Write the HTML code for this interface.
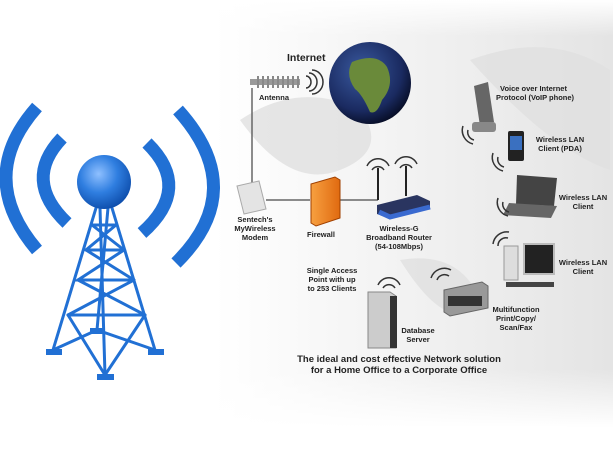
<!DOCTYPE html>
<html><head><style>
body{margin:0;width:613px;height:450px;overflow:hidden;background:#fff;font-family:"Liberation Sans",sans-serif}
svg{display:block}
text{font-family:"Liberation Sans",sans-serif;font-weight:bold;fill:#222}
</style></head><body>
<svg width="613" height="450" viewBox="0 0 613 450">
<defs>
<linearGradient id="bg" x1="0" x2="1"><stop offset="0" stop-color="#fff"/><stop offset="0.35" stop-color="#fff"/><stop offset="1" stop-color="#e4e4e4"/></linearGradient>
<linearGradient id="vf" x1="0" y1="0" x2="0" y2="1"><stop offset="0" stop-color="#fff" stop-opacity="1"/><stop offset="0.08" stop-color="#fff" stop-opacity="0"/><stop offset="0.82" stop-color="#fff" stop-opacity="0"/><stop offset="0.95" stop-color="#fff" stop-opacity="1"/></linearGradient>
<radialGradient id="globe" cx="0.4" cy="0.35" r="0.7"><stop offset="0" stop-color="#3a5aa0"/><stop offset="0.7" stop-color="#1a2a60"/><stop offset="1" stop-color="#050a20"/></radialGradient>
<radialGradient id="ball" cx="0.4" cy="0.35" r="0.7"><stop offset="0" stop-color="#8fc0ff"/><stop offset="0.5" stop-color="#2f7ee0"/><stop offset="1" stop-color="#0b4aa8"/></radialGradient>
<linearGradient id="fw" x1="0" x2="1"><stop offset="0" stop-color="#f7a040"/><stop offset="1" stop-color="#e06a10"/></linearGradient>
</defs>
<rect width="613" height="450" fill="url(#bg)"/>
<g fill="#e0e0e0" opacity="0.8">
<path d="M240 120 q60 -40 120 -10 q30 40 -20 60 q-50 20 -100 -50z"/>
<path d="M470 60 q80 -30 140 10 l0 100 q-60 -20 -140 -110z"/>
<path d="M400 260 q60 -10 80 40 q-30 40 -80 -40z"/>
</g>
<rect width="613" height="450" fill="url(#vf)"/>
<!-- Tower -->
<g stroke="#2170d4" fill="none">
<path d="M37 107 Q-25 177 37 250" stroke-width="13"/>
<path d="M62 138 Q22 180 67 223" stroke-width="13"/>
<path d="M147 143 Q193 188 142 233" stroke-width="13"/>
<path d="M178 110 Q250 190 176 263" stroke-width="13"/>
<g stroke-width="3" stroke-linecap="round">
<path d="M96 208 L53 350 M112 208 L155 350 M100 208 L105 375 M108 208 L97 330"/>
<path d="M92 225 L116 225 M86 250 L124 250 M78 280 L134 280 M68 315 L145 315"/>
<path d="M92 225 L124 250 L78 280 L134 280 L68 315 M116 225 L86 250 L134 280 M78 280 L145 315"/>
<path d="M68 315 L105 375 L145 315 M53 350 L97 330 L155 350"/>
</g>
<g stroke-width="6"><path d="M46 352 L62 352 M97 377 L114 377 M148 352 L164 352 M90 331 L104 331"/></g>
</g>
<circle cx="104" cy="182" r="27" fill="url(#ball)"/>
<!-- connectors -->
<g stroke="#666" stroke-width="1.5" fill="none">
<path d="M252 88 L252 183"/><path d="M266 200 L310 200 M340 200 L378 200"/>
</g>
<rect x="250" y="79" width="50" height="6" fill="#999"/>
<g stroke="#888" stroke-width="2"><path d="M258 76 V88 M263 76V88 M268 76V88 M273 76V88 M278 76V88 M283 76V88 M288 76V88 M293 76V88 M298 76V88"/></g>
<g stroke="#333" fill="none" stroke-width="1.5"><path d="M306 76 a5 6 0 0 1 0 12 M309 73 a8 9 0 0 1 0 18 M312 70 a11 12 0 0 1 0 24"/></g>
<text x="259" y="100" font-size="7.5">Antenna</text>
<text x="287" y="61" font-size="10.5" fill="#555">Internet</text>
<circle cx="370" cy="83" r="41" fill="url(#globe)"/>
<path d="M352 62 q25 -10 35 5 q8 18 -5 33 q-5 15 -12 12 q-8 -18 -15 -23 q-10 -14 -3 -27z" fill="#6a8a3a"/>
<path d="M237 186 l22 -5 l7 28 l-22 5z" fill="#e4e4e4" stroke="#aaa"/>
<text x="255" y="222" font-size="7.5" text-anchor="middle">Sentech's</text>
<text x="255" y="231" font-size="7.5" text-anchor="middle">MyWireless</text>
<text x="255" y="240" font-size="7.5" text-anchor="middle">Modem</text>
<path d="M311 184 l24 -7 l5 3 v38 l-24 8 l-5 -3z" fill="url(#fw)" stroke="#a04000"/>
<text x="321" y="237" font-size="7.5" text-anchor="middle">Firewall</text>
<path d="M377 205 l40 -10 l13 6 v8 l-40 10 l-13 -5z" fill="#2a3560"/>
<path d="M379 212 l11 5 l40 -10" fill="none" stroke="#3a6ad0" stroke-width="5"/>
<g stroke="#222" stroke-width="2"><path d="M378 200 v-32 M406 196 v-30"/></g>
<g stroke="#333" fill="none" stroke-width="1.5"><path d="M372 170 a7 7 0 0 1 12 0 M367 166 a12 12 0 0 1 22 0 M400 168 a7 7 0 0 1 12 0 M395 164 a12 12 0 0 1 22 0"/></g>
<text x="399" y="231" font-size="7.5" text-anchor="middle">Wireless-G</text>
<text x="399" y="240" font-size="7.5" text-anchor="middle">Broadband Router</text>
<text x="399" y="249" font-size="7.5" text-anchor="middle">(54-108Mbps)</text>
<path d="M474 86 l14 -4 l6 40 l-14 4z" fill="#666"/>
<rect x="472" y="122" width="24" height="10" rx="3" fill="#888"/>
<text x="500" y="91" font-size="7.5">Voice over Internet</text>
<text x="496" y="100" font-size="7.5">Protocol (VoIP phone)</text>
<rect x="508" y="131" width="16" height="30" rx="2" fill="#222"/><rect x="510" y="136" width="12" height="14" fill="#3a70c0"/>
<text x="560" y="142" font-size="7.5" text-anchor="middle">Wireless LAN</text><text x="560" y="151" font-size="7.5" text-anchor="middle">Client (PDA)</text>
<path d="M517 175 l40 3 l-3 28 l-38 -2z" fill="#444"/><path d="M509 203 l48 3 l-6 12 l-48 -3z" fill="#666"/>
<text x="583" y="200" font-size="7.5" text-anchor="middle">Wireless LAN</text><text x="583" y="209" font-size="7.5" text-anchor="middle">Client</text>
<rect x="504" y="246" width="14" height="34" fill="#ddd" stroke="#999"/>
<rect x="524" y="244" width="30" height="30" fill="#222" stroke="#bbb" stroke-width="2"/>
<rect x="506" y="282" width="48" height="5" fill="#444"/>
<text x="583" y="265" font-size="7.5" text-anchor="middle">Wireless LAN</text><text x="583" y="274" font-size="7.5" text-anchor="middle">Client</text>
<path d="M444 290 l38 -8 l6 4 v22 l-38 8 l-6 -4z" fill="#999" stroke="#666"/>
<rect x="448" y="296" width="34" height="10" fill="#333"/>
<text x="516" y="312" font-size="7.5" text-anchor="middle">Multifunction</text><text x="516" y="321" font-size="7.5" text-anchor="middle">Print/Copy/</text><text x="516" y="330" font-size="7.5" text-anchor="middle">Scan/Fax</text>
<path d="M368 292 h22 l6 4 v52 h-28z" fill="#ccc" stroke="#888"/><rect x="390" y="296" width="7" height="52" fill="#333"/>
<text x="418" y="333" font-size="7.5" text-anchor="middle">Database</text><text x="418" y="342" font-size="7.5" text-anchor="middle">Server</text>
<text x="332" y="273" font-size="7.5" text-anchor="middle">Single Access</text><text x="332" y="282" font-size="7.5" text-anchor="middle">Point with up</text><text x="332" y="291" font-size="7.5" text-anchor="middle">to 253 Clients</text>
<g stroke="#333" fill="none" stroke-width="1.5">
<path d="M468 130 a8 8 0 0 0 6 10 M463 126 a14 14 0 0 0 10 18"/>
<path d="M498 157 a8 8 0 0 0 6 10 M493 153 a14 14 0 0 0 10 18"/>
<path d="M503 202 a8 8 0 0 0 6 10 M498 198 a14 14 0 0 0 10 18"/>
<path d="M498 246 a8 8 0 0 1 10 -8 M493 244 a14 14 0 0 1 16 -12"/>
<path d="M437 280 a8 8 0 0 1 12 -4 M431 278 a14 14 0 0 1 20 -8"/>
<path d="M383 288 a7 7 0 0 1 12 0 M378 285 a12 12 0 0 1 22 0"/>
</g>
<text x="399" y="362" font-size="9.5" text-anchor="middle">The ideal and cost effective Network solution</text>
<text x="399" y="373" font-size="9.5" text-anchor="middle">for a Home Office to a Corporate Office</text>
</svg>
</body></html>
